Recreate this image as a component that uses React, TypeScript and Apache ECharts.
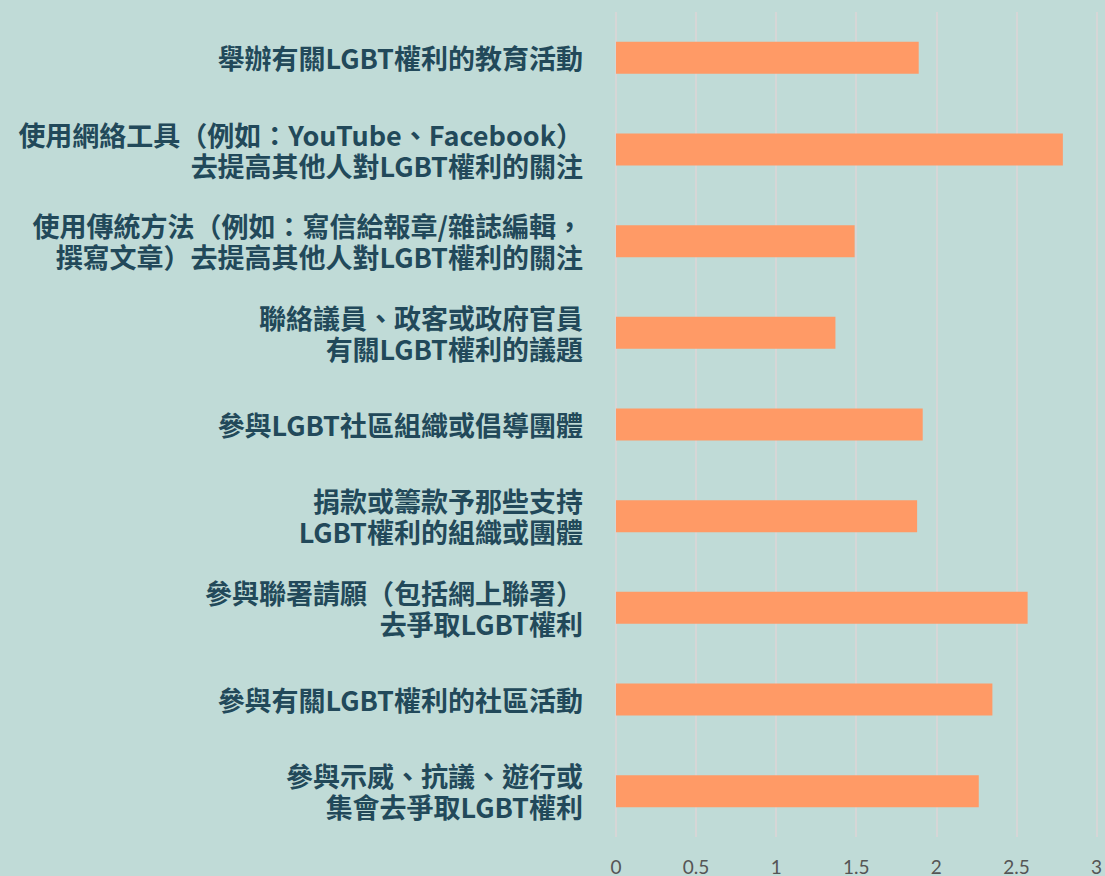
import React, { useEffect, useRef } from "react";
import * as echarts from "echarts";

const categories = [
  "舉辦有關LGBT權利的教育活動",
  "使用網絡工具（例如：YouTube、Facebook）\n去提高其他人對LGBT權利的關注",
  "使用傳統方法（例如：寫信給報章/雜誌編輯，\n撰寫文章）去提高其他人對LGBT權利的關注",
  "聯絡議員、政客或政府官員\n有關LGBT權利的議題",
  "參與LGBT社區組織或倡導團體",
  "捐款或籌款予那些支持\nLGBT權利的組織或團體",
  "參與聯署請願（包括網上聯署）\n去爭取LGBT權利",
  "參與有關LGBT權利的社區活動",
  "參與示威、抗議、遊行或\n集會去爭取LGBT權利",
];
const values = [1.89, 2.79, 1.49, 1.37, 1.915, 1.88, 2.57, 2.35, 2.265];
const xTicks = [0, 0.5, 1, 1.5, 2, 2.5, 3];

export default function App() {
  const ref = useRef<HTMLDivElement>(null);
  useEffect(() => {
    if (!ref.current) return;
    const chart = echarts.init(ref.current, undefined, { renderer: "svg" });
    chart.setOption({
      animation: false,
      backgroundColor: "#c0dbd7",
      grid: { left: 616, right: 7, top: 12, bottom: 37, containLabel: false },
      xAxis: {
        type: "value",
        min: xTicks[0],
        max: xTicks[xTicks.length - 1],
        interval: 0.5,
        axisLine: { show: false },
        axisTick: { show: false },
        splitLine: { show: true, lineStyle: { color: "#d6d6d6", width: 2 } },
        axisLabel: {
          color: "#555555",
          fontSize: 19,
          fontFamily: "Lato, 'Noto Sans', sans-serif",
          margin: 20,
          formatter: (v: number) => String(v),
        },
      },
      yAxis: {
        type: "category",
        inverse: true,
        data: categories,
        axisLine: { show: false },
        axisTick: { show: false },
        splitLine: { show: false },
        axisLabel: {
          color: "#22495a",
          fontSize: 27,
          lineHeight: 31,
          fontWeight: "bold",
          fontFamily: "'Noto Sans CJK TC', 'Noto Sans', sans-serif",
          margin: 33,
          align: "right",
        },
      },
      series: [
        {
          type: "bar",
          data: values,
          barWidth: 32,
          itemStyle: { color: "#ff9a66" },
        },
      ],
    });
    return () => chart.dispose();
  }, []);
  return <div ref={ref} style={{ width: 1105, height: 876, position: "absolute", left: 0, top: 0 }} />;
}
